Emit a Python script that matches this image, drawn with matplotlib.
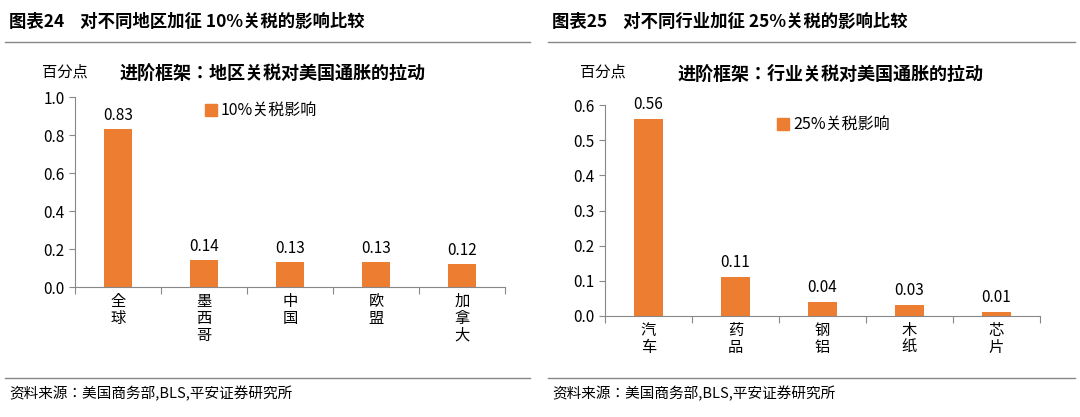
import matplotlib
matplotlib.use("Agg")
import matplotlib.pyplot as plt
plt.rcParams['font.family'] = ['Noto Sans CJK JP', 'Noto Sans CJK SC', 'Noto Sans CJK TC', 'DejaVu Sans']

regions = ["全球", "墨西哥", "中国", "欧盟", "加拿大"]
region_vals = [0.83, 0.14, 0.13, 0.13, 0.12]
sectors = ["汽车", "药品", "钢铝", "木纸", "芯片"]
sector_vals = [0.56, 0.11, 0.04, 0.03, 0.01]
C = "#ED7D31"

fig = plt.figure(figsize=(10.8, 4.17), dpi=100)
W, H = 1080, 417
def fx(x): return x / W
def fy(y): return 1 - y / H

def panel(x0, x1, ax_box, title, subtitle, cats, vals, ylim, yticks, leg, legpos, subpos):
    fig.text(fx(x0 + 4), fy(22), title, fontsize=12.5, fontweight='bold', va='center')
    fig.add_artist(plt.Line2D([fx(x0), fx(x1)], [fy(42), fy(42)], color='#888888', lw=1))
    fig.add_artist(plt.Line2D([fx(x0), fx(x1)], [fy(378), fy(378)], color='#888888', lw=1))
    fig.text(fx(x0 + 4), fy(394), "资料来源：美国商务部,BLS,平安证券研究所", fontsize=10.5,
             style='italic', va='center')
    ax = fig.add_axes(ax_box)
    xs = range(len(cats))
    ax.bar(xs, vals, width=0.33, color=C)
    for x, v in zip(xs, vals):
        ax.text(x, v + (ylim[1]) * 0.03, f"{v:.2f}", ha='center', va='bottom', fontsize=11)
    ax.set_xlim(-0.5, len(cats) - 0.5)
    ax.set_ylim(*ylim)
    ax.set_yticks(yticks)
    ax.set_yticklabels([f"{t:.1f}" for t in yticks], fontsize=11)
    ax.set_xticks([i + 0.5 for i in range(len(cats) - 1)] + [-0.5, len(cats) - 0.5])
    ax.set_xticklabels([])
    ax.tick_params(axis='x', length=5, direction='out', color='#888888')
    ax.tick_params(axis='y', length=4, color='#888888')
    for i, c in enumerate(cats):
        ax.text(i, -ylim[1] * 0.03, "\n".join(c), ha='center', va='top', fontsize=11,
                linespacing=1.0, transform=ax.transData)
    for s in ['top', 'right']:
        ax.spines[s].set_visible(False)
    for s in ['left', 'bottom']:
        ax.spines[s].set_color('#888888')
    fig.text(fx(subpos[0]), fy(subpos[1]), "百分点", fontsize=11, va='center')
    fig.text(fx(subpos[2]), fy(subpos[3]), subtitle, fontsize=13, fontweight='bold', va='center')
    fig.add_artist(plt.Rectangle((fx(legpos[0]), fy(legpos[1] + 6)), 12 / W, 12 / H, color=C))
    fig.text(fx(legpos[0] + 16), fy(legpos[1]), leg, fontsize=11.5, va='center')

panel(5, 530, [fx(75), fy(287), fx(505 - 75), fy(97) - fy(287)],
      "图表24    对不同地区加征 10%关税的影响比较", "进阶框架：地区关税对美国通胀的拉动",
      regions, region_vals, (0, 1.0), [0, 0.2, 0.4, 0.6, 0.8, 1.0], "10%关税影响",
      (205, 110), (42, 72, 120, 74))
panel(548, 1075, [fx(605), fy(316), fx(1040 - 605), fy(105) - fy(316)],
      "图表25    对不同行业加征 25%关税的影响比较", "进阶框架：行业关税对美国通胀的拉动",
      sectors, sector_vals, (0, 0.6), [0, 0.1, 0.2, 0.3, 0.4, 0.5, 0.6], "25%关税影响",
      (777, 124), (580, 72, 678, 74))

fig.savefig("out.png", dpi=100)
